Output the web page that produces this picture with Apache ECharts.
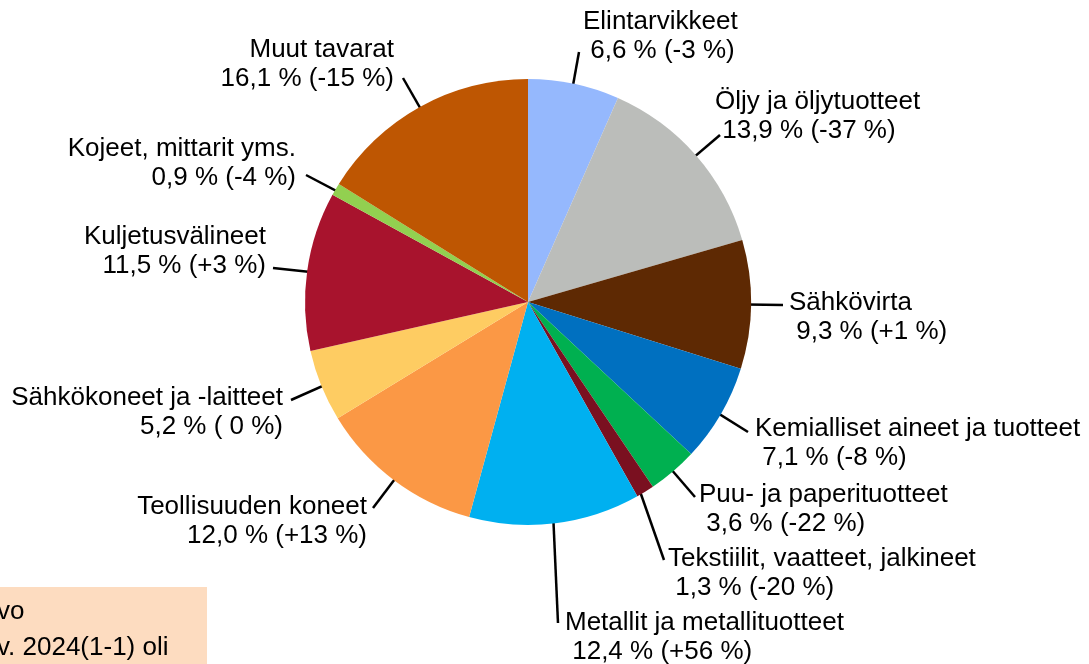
<!DOCTYPE html>
<html>
<head>
<meta charset="utf-8">
<script src="https://cdn.jsdelivr.net/npm/echarts@6/dist/echarts.min.js"></script>
<style>
    html, body { margin: 0; padding: 0; background: #fff; }
    #chart { width: 1089px; height: 664px; }
</style>
</head>
<body>
<div id="chart"></div>
<script>
var names = ['Elintarvikkeet', 'Öljy ja öljytuotteet', 'Sähkövirta', 'Kemialliset aineet ja tuotteet',
    'Puu- ja paperituotteet', 'Tekstiilit, vaatteet, jalkineet', 'Metallit ja metallituotteet',
    'Teollisuuden koneet', 'Sähkökoneet ja -laitteet', 'Kuljetusvälineet', 'Kojeet, mittarit yms.', 'Muut tavarat'];
var shares = [6.6, 13.9, 9.3, 7.1, 3.6, 1.3, 12.4, 12.0, 5.2, 11.5, 0.9, 16.1];
var changes = [-3, -37, 1, -8, -22, -20, 56, 13, 0, 3, -4, -15];
var colors = ['#95B8FD', '#BBBDBA', '#5E2903', '#0070C0', '#00B050', '#7A1020',
    '#00B0F0', '#FB9845', '#FECC62', '#A8132D', '#92D050', '#BE5602'];

// label placement: [x, y, align] and where the leader line ends
var labelPos = [
    [583, 36, 'left'], [715, 116, 'left'], [789, 317, 'left'], [755, 443, 'left'],
    [699, 509, 'left'], [668, 573, 'left'], [565, 637, 'left'],
    [367, 521, 'right'], [283, 412, 'right'], [266, 251, 'right'], [296, 163, 'right'], [394, 64, 'right']
];
var lineEnds = [
    [579, 52], [720, 135], [783, 305], [748, 432], [695, 497], [664, 560], [558, 623],
    [373, 508], [291, 400], [273, 268], [306, 175], [403, 78]
];

var cx = 528, cy = 302, R = 223;
var total = shares.reduce(function (a, b) { return a + b; }, 0);

function fmt(v) {
    return v.toFixed(1).replace('.', ',');
}
function fmtChange(v) {
    if (v > 0) return '+' + v;
    if (v < 0) return '' + v;
    return ' 0';
}

function innerPoint(i) {
    var before = 0;
    for (var k = 0; k < i; k++) before += shares[k];
    var a = (before + shares[i] / 2) / total * Math.PI * 2;
    return [cx + 0.9 * R * Math.sin(a), cy - 0.9 * R * Math.cos(a)];
}

var chart = echarts.init(document.getElementById('chart'));
chart.setOption({
    animation: false,
    graphic: [
        { type: 'rect', shape: { x: -5, y: 587, width: 212, height: 80 }, style: { fill: '#FDDCC0' } },
        { type: 'text', style: { x: -3, y: 612, text: 'vo', font: '26px "Liberation Sans"', fill: '#000', verticalAlign: 'middle' } },
        { type: 'text', style: { x: -3, y: 648, text: 'v. 2024(1-1) oli', font: '26px "Liberation Sans"', fill: '#000', verticalAlign: 'middle' } }
    ],
    series: [{
        type: 'pie',
        center: [cx, cy],
        radius: R,
        startAngle: 90,
        clockwise: true,
        silent: true,
        data: names.map(function (n, i) {
            return { name: n, value: shares[i], itemStyle: { color: colors[i] } };
        }),
        label: {
            show: true,
            position: 'outside',
            overflow: 'none',
            width: 400,
            fontFamily: 'Liberation Sans',
            fontSize: 26,
            lineHeight: 29,
            color: '#000',
            formatter: function (p) {
                var i = p.dataIndex;
                var lead = labelPos[i][2] === 'left' ? ' ' : '';
                return names[i] + '\n' + lead + fmt(shares[i]) + ' % (' + fmtChange(changes[i]) + ' %)';
            }
        },
        labelLine: {
            show: true,
            lineStyle: { color: '#000', width: 2.5 }
        },
        labelLayout: function (params) {
            var i = params.dataIndex;
            var p = labelPos[i];
            var s = innerPoint(i);
            return {
                x: p[0],
                y: p[1],
                align: p[2],
                verticalAlign: 'middle',
                labelLinePoints: [s, lineEnds[i], lineEnds[i]]
            };
        }
    }]
});
</script>
</body>
</html>
